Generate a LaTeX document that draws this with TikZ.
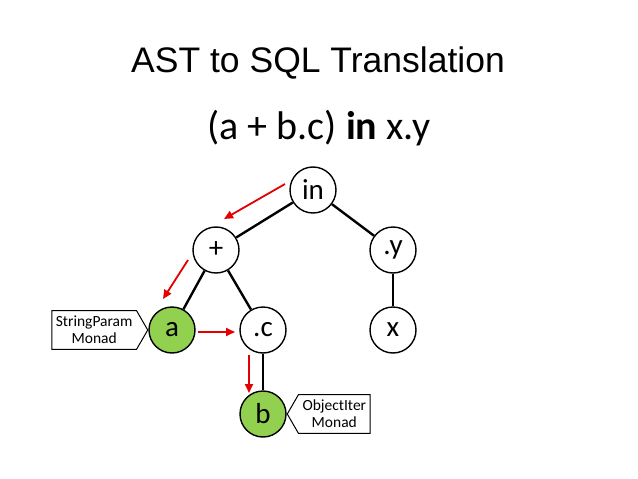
\documentclass[tikz,border=0pt]{standalone}
\usepackage{fontspec}
\setmainfont{Liberation Sans}
\newfontfamily\calib{Carlito}
\usetikzlibrary{arrows.meta,shapes.symbols}
\definecolor{nodegreen}{RGB}{146,208,80}
\definecolor{arrred}{RGB}{226,0,0}
\begin{document}
\begin{tikzpicture}[x=1pt,y=-1pt,
  tnode/.style={circle,draw=black,line width=1.4pt,minimum size=46pt,inner sep=0pt,font=\calib\fontsize{29}{32}\selectfont,fill=white},
  gnode/.style={tnode,fill=nodegreen},
  edge/.style={line width=2.4pt,black},
  redarr/.style={draw=arrred,line width=1.8pt,-{Triangle[length=9pt,width=8pt]}},
  callout/.style={shape=signal,draw=black,line width=1pt,fill=white,font=\calib\fontsize{15.5}{17}\selectfont,align=center,inner xsep=4pt,inner ysep=5.5pt,signal from=nowhere,signal pointer angle=120}
]
\useasboundingbox (0,0) rectangle (638,479);
\node[font=\fontsize{35.5}{40}\selectfont] (title) at (318,63) {AST to SQL Translation};
\node[font=\calib\fontsize{40}{46}\selectfont] (sub) at (319,128) {(a + b.c) \textbf{in} x.y};

\node[tnode] (in) at (313,190) {in};
\node[tnode] (plus) at (216,250) {+};
\node[tnode] (dy) at (393,250) {.y};
\node[gnode] (a) at (172,330) {a};
\node[tnode] (dc) at (263,330) {.c};
\node[tnode] (x) at (393,330) {x};
\node[gnode] (b) at (263,414) {b};

\draw[edge] (in) -- (plus);
\draw[edge] (in) -- (dy);
\draw[edge] (plus) -- (a);
\draw[edge] (plus) -- (dc);
\draw[edge,line width=2.8pt] (dc) -- (b);
\draw[edge] (dy) -- (x);

\node[callout,signal to=east,anchor=east] (sp) at (a.west) {StringParam\\Monad};
\node[callout,signal to=west,anchor=west] (oi) at (b.east) {ObjectIter\\Monad};

\coordinate (r1s) at (285,184); \coordinate (r1e) at (224,219);
\coordinate (r2s) at (188,260); \coordinate (r2e) at (163,299);
\coordinate (r3s) at (198,332); \coordinate (r3e) at (235,332);
\coordinate (r4s) at (249,355); \coordinate (r4e) at (249,393);
\draw[redarr] (r1s) -- (r1e);
\draw[redarr] (r2s) -- (r2e);
\draw[redarr] (r3s) -- (r3e);
\draw[redarr] (r4s) -- (r4e);
\end{tikzpicture}
\end{document}
